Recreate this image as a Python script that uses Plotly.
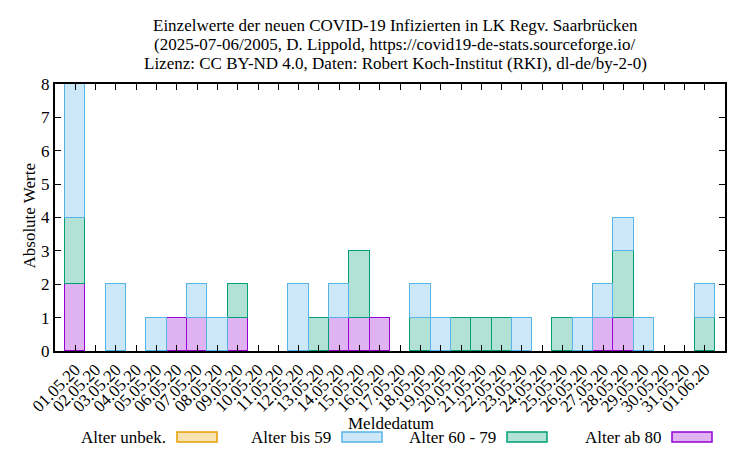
import plotly.graph_objects as go

# Meldedatum 01.05.20 .. 01.06.20
dates = ["01.05.20", "02.05.20", "03.05.20", "04.05.20", "05.05.20", "06.05.20",
         "07.05.20", "08.05.20", "09.05.20", "10.05.20", "11.05.20", "12.05.20",
         "13.05.20", "14.05.20", "15.05.20", "16.05.20", "17.05.20", "18.05.20",
         "19.05.20", "20.05.20", "21.05.20", "22.05.20", "23.05.20", "24.05.20",
         "25.05.20", "26.05.20", "27.05.20", "28.05.20", "29.05.20", "30.05.20",
         "31.05.20", "01.06.20"]

ab_80 = [2, 0, 0, 0, 0, 1, 1, 0, 1, 0, 0, 0, 0, 1, 1, 1,
         0, 0, 0, 0, 0, 0, 0, 0, 0, 0, 1, 1, 0, 0, 0, 0]
a60_79 = [2, 0, 0, 0, 0, 0, 0, 0, 1, 0, 0, 0, 1, 0, 2, 0,
          0, 1, 0, 1, 1, 1, 0, 0, 1, 0, 0, 2, 0, 0, 0, 1]
bis_59 = [4, 0, 2, 0, 1, 0, 1, 1, 0, 0, 0, 2, 0, 1, 0, 0,
          0, 1, 1, 0, 0, 0, 1, 0, 0, 1, 1, 1, 1, 0, 0, 1]
unbek = [0] * len(dates)

series = [
    ("Alter ab 80", ab_80, "148,0,211"),
    ("Alter 60 - 79", a60_79, "0,158,115"),
    ("Alter bis 59", bis_59, "86,180,233"),
    ("Alter unbek.", unbek, "230,159,0"),
]
title_lines = [
    "Einzelwerte der neuen COVID-19 Infizierten in LK Regv. Saarbrücken",
    "(2025-07-06/2005, D. Lippold, https://covid19-de-stats.sourceforge.io/",
    "Lizenz: CC BY-ND 4.0, Daten: Robert Koch-Institut (RKI), dl-de/by-2-0)",
]

font = "Liberation Serif"
fs = 17

# plot area in pixels, used to place annotations like gnuplot does
L, R, T, B = 55, 725, 84, 351
def px(x):
    return (x - L) / (R - L)
def py(y):
    return (B - y) / (B - T)

fig = go.Figure()
for name, vals, rgb in series:
    fig.add_trace(go.Bar(
        x=dates, y=[v if v else None for v in vals], name=name,
        marker=dict(color=f"rgba({rgb},0.3)", line=dict(color=f"rgb({rgb})", width=1.5)),
    ))

for i, line in enumerate(title_lines):
    fig.add_annotation(x=px(395), y=py(26 + i * 18.5), xref="paper", yref="paper",
                       text=line, showarrow=False, xanchor="center", yanchor="middle",
                       font=dict(family=font, size=fs))

fig.add_annotation(x=px(391), y=py(423), xref="paper", yref="paper",
                   text="Meldedatum", showarrow=False, yanchor="middle",
                   font=dict(family=font, size=fs))
fig.add_annotation(x=px(17), y=py(216), xref="paper", yref="paper",
                   text="Absolute Werte", showarrow=False, textangle=-90,
                   font=dict(family=font, size=fs))

# gnuplot-style legend: text left of the swatch
legend_order = ["Alter unbek.", "Alter bis 59", "Alter 60 - 79", "Alter ab 80"]
colors = {n: c for n, _, c in series}
for i, name in enumerate(legend_order):
    x_end = 168 + i * 165
    fig.add_annotation(x=px(x_end), y=py(437), xref="paper", yref="paper",
                       text=name, showarrow=False, xanchor="right", yanchor="middle",
                       font=dict(family=font, size=fs, color="black"))
    fig.add_shape(type="rect", xref="paper", yref="paper",
                  x0=px(x_end + 9), x1=px(x_end + 49),
                  y0=py(442), y1=py(432),
                  fillcolor=f"rgba({colors[name]},0.3)",
                  line=dict(color=f"rgb({colors[name]})", width=1.5))

fig.update_layout(
    width=750, height=450,
    barmode="stack", bargap=0,
    showlegend=False,
    plot_bgcolor="white", paper_bgcolor="white",
    font=dict(family=font, size=fs, color="black"),
    margin=dict(l=L, r=750 - R, t=T, b=450 - B),
)
fig.update_xaxes(
    type="category", range=[-1, 32], tickangle=-45, automargin=False,
    ticks="inside", ticklen=6, tickcolor="black", mirror="allticks",
    showline=True, linecolor="black", linewidth=2, showgrid=False,
    tickfont=dict(family=font, size=fs),
)
fig.update_yaxes(
    range=[0, 8], dtick=1, automargin=False,
    ticks="inside", ticklen=6, tickcolor="black", mirror="allticks",
    showline=True, linecolor="black", linewidth=2, showgrid=False, zeroline=False,
    tickfont=dict(family=font, size=fs),
)

# page body has a default margin; drop it so the figure sits at the window origin
fig.write_html("out.html", config={"displayModeBar": False},
               post_script="document.body.style.margin = '0';")
